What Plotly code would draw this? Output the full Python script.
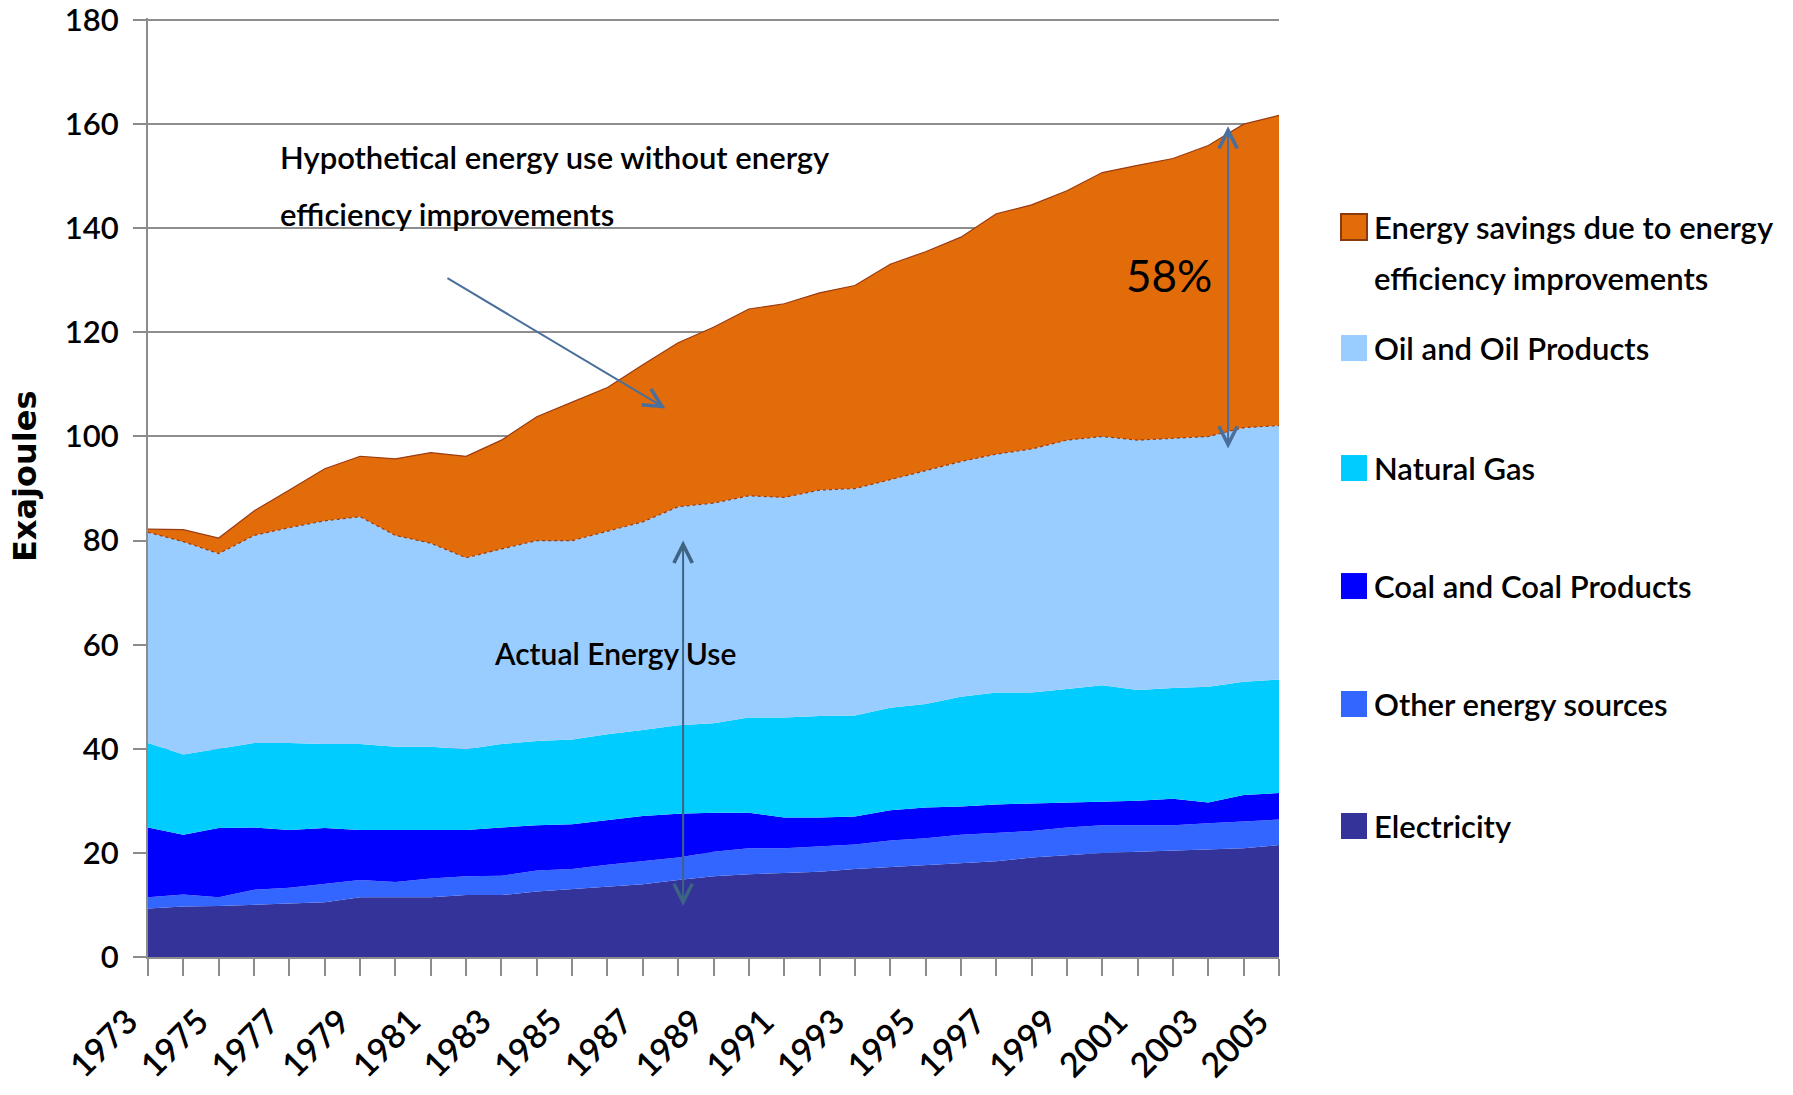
import plotly.graph_objects as go

years = list(range(1973, 2006))
tick_labels = [str(y) if (y - 1973) % 2 == 0 else "" for y in years]
y_ticks = [0, 20, 40, 60, 80, 100, 120, 140, 160, 180]

electricity = [9.3, 9.7, 9.8, 10.0, 10.3, 10.5, 11.5, 11.5, 11.5, 11.9, 11.9, 12.6, 13.1, 13.5, 14.0, 14.8,
               15.5, 15.9, 16.2, 16.4, 16.9, 17.3, 17.7, 18.0, 18.4, 19.1, 19.5, 20.0, 20.2, 20.4, 20.6, 20.9, 21.5]
other = [2.2, 2.3, 1.7, 2.9, 3.0, 3.5, 3.3, 2.9, 3.6, 3.6, 3.7, 4.0, 3.8, 4.2, 4.4, 4.3,
         4.7, 5.0, 4.7, 4.9, 4.7, 5.1, 5.1, 5.5, 5.4, 5.1, 5.4, 5.3, 5.1, 4.9, 5.1, 5.1, 4.9]
coal = [13.4, 11.5, 13.3, 12.0, 11.1, 10.8, 9.6, 10.0, 9.3, 8.9, 9.3, 8.7, 8.6, 8.6, 8.7, 8.4,
        7.5, 6.8, 5.9, 5.5, 5.4, 5.8, 5.9, 5.4, 5.5, 5.3, 4.8, 4.5, 4.7, 5.1, 4.0, 5.1, 5.1]
gas = [16.2, 15.4, 15.2, 16.2, 16.7, 16.1, 16.5, 16.0, 16.0, 15.5, 16.0, 16.2, 16.3, 16.5, 16.5, 17.0,
       17.2, 18.3, 19.2, 19.5, 19.4, 19.7, 19.9, 21.1, 21.5, 21.3, 21.8, 22.4, 21.3, 21.3, 22.2, 21.8, 21.8]
oil = [40.5, 40.9, 37.5, 39.9, 41.4, 42.9, 43.7, 40.6, 39.1, 36.8, 37.5, 38.5, 38.2, 39.0, 40.0, 42.0,
       42.3, 42.6, 42.3, 43.4, 43.6, 43.8, 44.8, 45.2, 45.8, 46.8, 47.8, 47.8, 48.0, 48.0, 48.1, 48.8, 48.8]
savings = [0.6, 2.3, 3.0, 4.7, 7.2, 10.0, 11.6, 14.7, 17.4, 19.5, 20.9, 23.8, 26.6, 27.6, 30.2, 31.5,
           33.8, 35.9, 37.2, 37.9, 39.0, 41.4, 42.1, 43.1, 46.2, 46.9, 47.9, 50.7, 52.8, 53.7, 55.9, 58.3, 59.6]

series_names = ["Electricity", "Other energy sources", "Coal and Coal Products", "Natural Gas",
                "Oil and Oil Products", "Energy savings due to energy efficiency improvements"]
series_values = [electricity, other, coal, gas, oil, savings]
series_colors = ["#333399", "#3366FF", "#0000FF", "#00CCFF", "#99CCFF", "#E36C0A"]

FONT = "Lato, 'Open Sans', sans-serif"
WT = 600

fig = go.Figure()
for name, vals, col in zip(series_names, series_values, series_colors):
    if name.startswith("Energy savings"):
        line = dict(width=1.2, color="#9A3B12")
    elif name.startswith("Oil"):
        line = dict(width=1.2, color="#9A3B12", dash="dot")
    else:
        line = dict(width=0, color=col)
    fig.add_trace(go.Scatter(
        x=years, y=vals, name=name, mode="lines", stackgroup="one",
        fillcolor=col, line=line, showlegend=False))

# ---- layout geometry (page body margin is removed by the post script)
W, H = 1793, 1095
Y_MAX = 180.4
px_per_unit = (957 - 20) / 180.0
L = 148
R = W - 1279
B = H - 957
T = 957 - Y_MAX * px_per_unit
pw, ph = W - L - R, H - T - B

fig.update_layout(
    width=W, height=H,
    margin=dict(l=L, r=R, t=T, b=B, autoexpand=False),
    paper_bgcolor="white", plot_bgcolor="white",
    font=dict(family=FONT, color="#000000", size=30, weight=WT),
    showlegend=False,
)
fig.update_xaxes(
    range=[1973, 2005], tickmode="array", tickvals=years, ticktext=tick_labels,
    tickangle=-45, ticks="outside", ticklen=17, tickwidth=2, tickcolor="#8c8c8c",
    showline=True, linecolor="#8c8c8c", linewidth=2, showgrid=False, zeroline=False,
    tickfont=dict(family=FONT, size=34, color="#000", weight=WT), automargin=False,
    ticklabelshift=-20, ticklabelstandoff=12, ticklabeloverflow="allow",
)
fig.update_yaxes(
    range=[0, Y_MAX], tickmode="array", tickvals=y_ticks, ticks="outside", ticklen=13, tickwidth=2,
    tickcolor="#8c8c8c", showline=True, linecolor="#8c8c8c", linewidth=2,
    showgrid=True, gridcolor="#8e8e8e", gridwidth=2, zeroline=False,
    tickfont=dict(family=FONT, size=31, color="#000", weight=WT), ticklabelstandoff=8,
    ticklabeloverflow="allow", automargin=False,
)

def px_to_paper(px, py):
    """page pixel -> paper coords"""
    return (px - L) / pw, (H - B - py) / ph

# ---- y axis title
tx_, ty_ = px_to_paper(25, 476)
fig.add_annotation(xref="paper", yref="paper", x=tx_, y=ty_, xanchor="center", yanchor="middle",
                   text="<b>Exajoules</b>", textangle=-90, showarrow=False,
                   font=dict(family="'DejaVu Sans', sans-serif", size=32, color="#000"))

# ---- manual legend (Excel-style spacing)
legend_items = [
    ("Energy savings due to energy", "efficiency improvements", "#E36C0A", "#8B3A0E", 227),
    ("Oil and Oil Products", None, "#99CCFF", None, 348),
    ("Natural Gas", None, "#00CCFF", None, 468),
    ("Coal and Coal Products", None, "#0000FF", None, 586),
    ("Other energy sources", None, "#3366FF", None, 704),
    ("Electricity", None, "#333399", None, 826),
]
sq_x0, sq_size, txt_x = 1341, 26, 1372
for text1, text2, col, border, cy in legend_items:
    xa, ya = px_to_paper(sq_x0, cy)
    fig.add_shape(type="rect", xref="paper", yref="paper", xsizemode="pixel", ysizemode="pixel",
                  xanchor=xa, yanchor=ya, x0=0, x1=sq_size, y0=-sq_size / 2, y1=sq_size / 2,
                  fillcolor=col, line=dict(width=2 if border else 0, color=border or col))
    tx, ty = px_to_paper(txt_x, cy)
    fig.add_annotation(xref="paper", yref="paper", x=tx, y=ty, xanchor="left", yanchor="middle",
                       text=text1, showarrow=False, font=dict(family=FONT, size=31, color="#000", weight=WT))
    if text2:
        tx2, ty2 = px_to_paper(txt_x, cy + 51)
        fig.add_annotation(xref="paper", yref="paper", x=tx2, y=ty2, xanchor="left", yanchor="middle",
                           text=text2, showarrow=False, font=dict(family=FONT, size=31, color="#000", weight=WT))

# ---- text annotations
hx, hy1 = px_to_paper(278, 157)
_, hy2 = px_to_paper(278, 214)
fig.add_annotation(xref="paper", yref="paper", x=hx, y=hy1, xanchor="left", yanchor="middle",
                   text="Hypothetical energy use without energy", showarrow=False,
                   font=dict(family=FONT, size=31, color="#000", weight=WT))
fig.add_annotation(xref="paper", yref="paper", x=hx, y=hy2, xanchor="left", yanchor="middle",
                   text="efficiency improvements", showarrow=False,
                   font=dict(family=FONT, size=31, color="#000", weight=WT))
fig.add_annotation(x=1986.2, y=58.4, xref="x", yref="y", text="Actual Energy Use", showarrow=False,
                   font=dict(family=FONT, size=30, color="#000", weight=WT))
fig.add_annotation(x=2001.9, y=131.0, xref="x", yref="y", text="58%", showarrow=False,
                   font=dict(family=FONT, size=44, color="#000", weight=400))

# ---- arrows
arrow_col = "#4A6F9C"
fig.add_annotation(x=1987.64, y=105.4, ax=1981.43, ay=130.6, xref="x", yref="y", axref="x", ayref="y",
                   text="", showarrow=True, arrowhead=5, arrowsize=1.8, arrowwidth=2,
                   arrowcolor=arrow_col, standoff=0)
fig.add_annotation(x=1988.14, y=80.0, ax=1988.14, ay=9.5, xref="x", yref="y", axref="x", ayref="y",
                   text="", showarrow=True, arrowhead=5, startarrowhead=5, arrowside="end+start",
                   arrowsize=1.8, startarrowsize=1.8, arrowwidth=2, arrowcolor="#3E6483",
                   standoff=0, startstandoff=0)
fig.add_annotation(x=2003.56, y=159.6, ax=2003.56, ay=97.4, xref="x", yref="y", axref="x", ayref="y",
                   text="", showarrow=True, arrowhead=5, startarrowhead=5, arrowside="end+start",
                   arrowsize=1.8, startarrowsize=1.8, arrowwidth=2, arrowcolor=arrow_col,
                   standoff=0, startstandoff=0)

fig.write_html("out.html",
               config={"displayModeBar": False, "staticPlot": True},
               post_script="document.body.style.margin='0';document.body.style.overflow='hidden';")
